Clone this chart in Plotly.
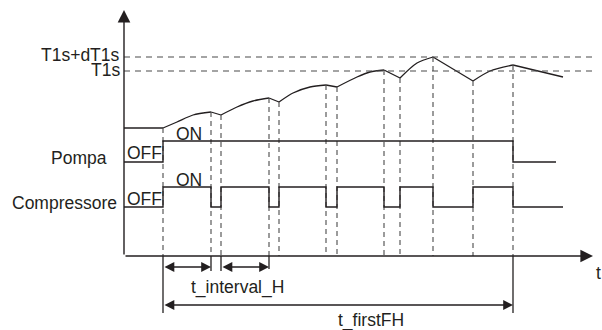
import plotly.graph_objects as go

# ---------------- data (time units from origin, level units above time axis) -------------
# temperature curve: corner points + points read along rising arcs
temp_t = [0, 39, 53, 69, 87, 97, 113, 129, 145, 155, 169, 186, 202, 213, 233, 246, 260,
          276, 293, 309, 349, 366, 389, 439]
temp_v = [128, 128, 134, 141, 144, 141, 149, 155, 158, 154, 163, 169, 171, 169, 179, 184, 186,
          178, 193, 199, 175, 185, 191, 179]
# instants where the compressor switches (corners of the temperature curve)
switch_t = [39, 87, 97, 145, 155, 202, 213, 260, 276, 309, 349, 389]

T1s = 185
T1s_dT1s = 199

# pump state (0 = OFF, 1 = ON)
pump_t = [0, 39, 389, 432]
pump_s = [0, 1, 0, 0]
pump_levels = {0: 94, 1: 115}

# compressor state
comp_t = [0, 39, 87, 97, 145, 155, 202, 213, 260, 276, 309, 349, 389, 439]
comp_s = [0, 1, 0, 1, 0, 1, 0, 1, 0, 1, 0, 1, 0, 0]
comp_levels = {0: 49, 1: 69}

t_end_axis = 469
y_end_axis = 246
t_dash_end = 473

labels_left = ["T1s+dT1s", "T1s", "Pompa", "Compressore"]

INK = "#231f20"
DASH = "#4a4a4a"
FONT = dict(family="Liberation Sans, Arial, sans-serif", size=17.5, color=INK)

fig = go.Figure()

# temperature curve: draw segment by segment between corner points
corner_idx = [0] + [temp_t.index(s) for s in switch_t] + [len(temp_t) - 1]
for a, b in zip(corner_idx[:-1], corner_idx[1:]):
    fig.add_trace(go.Scatter(x=temp_t[a:b + 1], y=temp_v[a:b + 1], mode="lines",
                             line=dict(color=INK, width=1.3, shape="spline", smoothing=0.8),
                             hoverinfo="skip", showlegend=False))

# dashed vertical guides from the temperature curve down to the time axis
for s in switch_t:
    v = temp_v[temp_t.index(s)]
    fig.add_trace(go.Scatter(x=[s, s], y=[v, 0], mode="lines",
                             line=dict(color=DASH, width=1.1, dash="5px,4px"),
                             hoverinfo="skip", showlegend=False))

# threshold dashed lines
for lvl in (T1s_dT1s, T1s):
    fig.add_trace(go.Scatter(x=[0, t_dash_end], y=[lvl, lvl], mode="lines",
                             line=dict(color=DASH, width=1.1, dash="6px,5px"),
                             hoverinfo="skip", showlegend=False))

# pump and compressor step lines
fig.add_trace(go.Scatter(x=pump_t, y=[pump_levels[s] for s in pump_s], mode="lines",
                         line=dict(color=INK, width=1.4, shape="hv"),
                         hoverinfo="skip", showlegend=False))
fig.add_trace(go.Scatter(x=comp_t, y=[comp_levels[s] for s in comp_s], mode="lines",
                         line=dict(color=INK, width=1.4, shape="hv"),
                         hoverinfo="skip", showlegend=False))

# dimension extension lines below the axis
ext = [(switch_t[0], -57), (switch_t[1], -15), (switch_t[2], -15), (switch_t[3], -13),
       (switch_t[-1], -57)]
for t, low in ext:
    fig.add_trace(go.Scatter(x=[t, t], y=[0, low], mode="lines",
                             line=dict(color=INK, width=1.3),
                             hoverinfo="skip", showlegend=False))

annotations = []


def arrow(x0, y0, x1, y1, both=False, size=1.0):
    annotations.append(dict(x=x1, y=y1, ax=x0, ay=y0, xref="x", yref="y", axref="x", ayref="y",
                            text="", showarrow=True, arrowhead=2, arrowsize=size,
                            arrowwidth=1.4, arrowcolor=INK, standoff=0, startstandoff=0,
                            arrowside="end+start" if both else "end", startarrowhead=2,
                            startarrowsize=size))


# axes
arrow(0, 0, 0, y_end_axis, size=1.8)
arrow(0, 0, t_end_axis, 0, size=1.8)
# t_interval_H dimension arrows
arrow(switch_t[0], -11, switch_t[1], -11, both=True, size=1.4)
arrow(switch_t[2], -11, switch_t[3], -11, both=True, size=1.4)
# t_firstFH dimension arrow
arrow(switch_t[0], -49, switch_t[-1], -49, both=True, size=1.4)


def text(x, y, s, anchor="center"):
    annotations.append(dict(x=x, y=y, xref="x", yref="y", text=s, showarrow=False,
                            xanchor=anchor, yanchor="middle", font=FONT))


text(-2, 201, labels_left[0], "right")
text(-2, 186, labels_left[1], "right")
text(-15, 98, labels_left[2], "right")
text(-5, 53, labels_left[3], "right")
text(1, 103, "OFF", "left")
text(1, 57, "OFF", "left")
text(65, 122, "ON")
text(65, 76, "ON")
text(113, -31, "t_interval_H")
text(247, -64, "t_firstFH")
text(474, -17, "t")

fig.update_layout(
    width=602, height=330,
    margin=dict(l=0, r=0, t=0, b=0),
    paper_bgcolor="white", plot_bgcolor="white",
    xaxis=dict(range=[-124, 478], visible=False, fixedrange=True),
    yaxis=dict(range=[-74, 256], visible=False, fixedrange=True),
    annotations=annotations,
    showlegend=False,
)

fig.write_html("out.html", config={"displayModeBar": False},
               post_script="document.body.style.margin='0';document.body.style.overflow='hidden';")
